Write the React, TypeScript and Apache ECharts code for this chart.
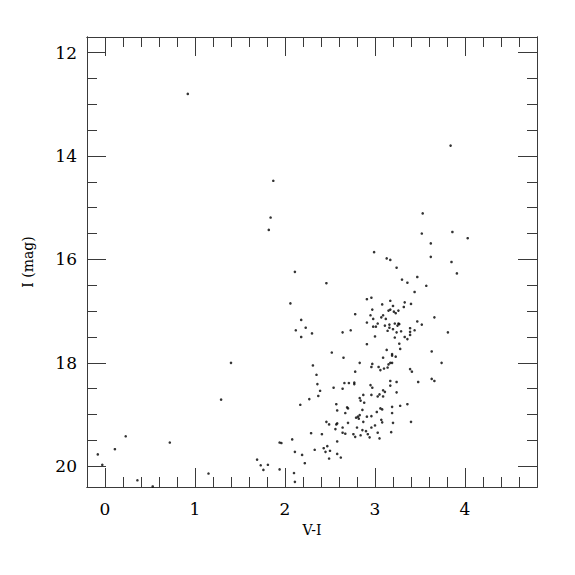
import React, { useEffect, useRef } from "react";
import * as echarts from "echarts";

// V-I colour index of each star
const colorVI = [
  0.92, -0.08, -0.03, 0.11, 0.23, 0.36, 0.53, 0.72, 1.15, 1.29, 1.40, 1.69,
  1.87, 1.84, 1.82, 2.11, 2.46, 2.06, 2.18, 2.12, 2.23, 2.30, 2.18, 2.64,
  2.52, 2.65, 2.31, 3.84, 3.53, 3.52, 3.86, 4.03, 3.62, 2.99, 3.62, 3.13,
  3.17, 3.85, 3.24, 3.91, 3.47, 3.30, 3.81, 3.74, 3.36, 3.57, 3.44, 2.96,
  2.91, 3.17, 3.33, 3.40, 3.08, 3.20, 3.32, 2.97, 3.17, 3.15, 3.26, 3.21,
  3.23, 2.78, 2.95, 3.09, 3.07, 3.12, 2.98, 2.91, 3.47, 3.66, 3.03, 3.22,
  3.26, 3.27, 3.52, 2.98, 3.01, 3.11, 3.16, 3.25, 3.16, 3.39, 2.73, 3.14,
  3.20, 3.29, 3.39, 3.44, 3.24, 3.39, 3.00, 3.22, 3.33, 3.36, 3.27, 2.91,
  3.28, 3.13, 3.63, 3.19, 3.19, 3.23, 3.09, 3.17, 3.19, 2.83, 3.15, 2.97,
  2.96, 3.04, 3.10, 3.14, 3.06, 3.39, 3.41, 2.78, 3.63, 3.66, 3.17, 3.24,
  3.48, 2.66, 2.71, 2.77, 2.77, 2.54, 2.64, 2.95, 2.97, 3.17, 2.87, 2.96,
  3.05, 3.03, 3.09, 3.09, 3.11, 3.24, 2.83, 2.35, 2.36, 2.39, 2.27, 2.37,
  2.17, 2.57, 2.84, 2.88, 2.58, 2.70, 2.69, 2.67, 2.79, 2.81, 2.82, 2.83,
  2.86, 2.91, 2.96, 3.02, 3.06, 3.08, 3.07, 3.08, 2.46, 2.49, 2.57, 2.58,
  2.56, 2.64, 2.70, 2.67, 2.64, 2.76, 2.78, 2.80, 2.87, 2.86, 2.84, 2.90,
  2.92, 2.96, 3.00, 2.94, 3.03, 3.05, 2.29, 2.41, 2.58, 2.33, 2.43, 2.47,
  2.45, 2.50, 2.58, 2.62, 2.49, 2.11, 2.19, 2.22, 2.11, 2.08, 1.94, 1.96,
  1.73, 1.81, 1.76, 1.94, 2.10, 3.19, 3.28, 3.36, 3.19, 3.20, 3.40, 3.18,
];

// I magnitude of each star
const magI = [
  12.80, 19.77, 19.97, 19.67, 19.42, 20.27, 20.39, 19.54, 20.14, 18.71, 18.00, 19.87,
  14.48, 15.19, 15.43, 16.24, 16.46, 16.85, 17.17, 17.37, 17.32, 17.43, 17.50, 17.41,
  17.80, 17.90, 18.05, 13.80, 15.11, 15.50, 15.47, 15.59, 15.69, 15.86, 15.95, 15.98,
  16.01, 16.05, 16.16, 16.27, 16.34, 16.39, 17.41, 18.00, 16.45, 16.51, 16.63, 16.74,
  16.77, 16.80, 16.83, 16.86, 16.87, 16.90, 16.92, 16.97, 16.97, 16.99, 16.99, 17.01,
  17.04, 17.06, 17.08, 17.08, 17.12, 17.15, 17.15, 17.22, 17.20, 17.12, 17.24, 17.24,
  17.24, 17.25, 17.26, 17.30, 17.30, 17.28, 17.26, 17.28, 17.32, 17.33, 17.37, 17.38,
  17.35, 17.39, 17.40, 17.37, 17.41, 17.46, 17.49, 17.51, 17.50, 17.54, 17.63, 17.64,
  17.73, 17.75, 17.78, 17.83, 17.86, 17.88, 17.90, 18.00, 18.00, 18.00, 18.03, 18.02,
  18.08, 18.08, 18.11, 18.09, 18.14, 18.12, 18.17, 18.17, 18.31, 18.35, 18.35, 18.37,
  18.37, 18.39, 18.39, 18.38, 18.41, 18.48, 18.50, 18.43, 18.48, 18.44, 18.62, 18.62,
  18.61, 18.65, 18.65, 18.53, 18.56, 18.57, 18.68, 18.23, 18.41, 18.54, 18.70, 18.64,
  18.81, 18.80, 18.73, 18.77, 18.92, 18.88, 18.86, 18.97, 19.06, 19.04, 19.08, 19.01,
  18.91, 19.04, 19.03, 18.95, 18.88, 18.90, 19.10, 19.15, 19.14, 19.19, 19.19, 19.17,
  19.28, 19.25, 19.16, 19.37, 19.35, 19.38, 19.43, 19.25, 19.14, 19.30, 19.40, 19.32,
  19.38, 19.25, 19.21, 19.44, 19.35, 19.46, 19.36, 19.38, 19.52, 19.68, 19.65, 19.61,
  19.72, 19.70, 19.76, 19.83, 19.85, 19.72, 19.78, 19.94, 20.30, 19.48, 19.54, 19.55,
  19.98, 19.97, 20.07, 20.06, 20.13, 18.85, 18.83, 18.80, 18.97, 19.16, 19.14, 19.34,
];

// tick positions
const xMajorTicks = [0, 1, 2, 3, 4];
const xMinorTicks = [
  -0.2, 0, 0.2, 0.4, 0.6, 0.8, 1, 1.2, 1.4, 1.6, 1.8, 2, 2.2, 2.4, 2.6, 2.8,
  3, 3.2, 3.4, 3.6, 3.8, 4, 4.2, 4.4, 4.6, 4.8,
];
const yMajorTicks = [12, 14, 16, 18, 20];
const yMinorTicks = [
  12, 12.5, 13, 13.5, 14, 14.5, 15, 15.5, 16, 16.5, 17, 17.5, 18, 18.5, 19,
  19.5, 20,
];

const X_MIN = -0.2;
const X_MAX = 4.8;
const Y_MIN = 11.7;
const Y_MAX = 20.4;

const AXIS_COLOR = "#3a3a3a";
const FONT = "'DejaVu Serif', 'Liberation Serif', serif";

function xAxisDef(position: string, ticks: number[], len: number, showLabel: boolean, name?: string) {
  return {
    type: "value",
    position,
    min: X_MIN,
    max: X_MAX,
    name: name || "",
    nameLocation: "middle",
    nameGap: 36,
    nameTextStyle: { fontFamily: FONT, fontSize: 14, color: "#000" },
    axisLine: { show: true, onZero: false, lineStyle: { color: AXIS_COLOR, width: 1 } },
    axisTick: {
      show: true,
      inside: true,
      length: len,
      customValues: ticks,
      lineStyle: { color: AXIS_COLOR, width: 1 },
    },
    axisLabel: {
      show: showLabel,
      customValues: ticks,
      margin: 13,
      fontFamily: FONT,
      fontSize: 17,
      color: "#000",
    },
    splitLine: { show: false },
  };
}

function yAxisDef(position: string, ticks: number[], len: number, showLabel: boolean, name?: string) {
  return {
    type: "value",
    position,
    min: Y_MIN,
    max: Y_MAX,
    inverse: true,
    name: name || "",
    nameLocation: "middle",
    nameGap: 52,
    nameRotate: 90,
    nameTextStyle: { fontFamily: FONT, fontSize: 14, color: "#000" },
    axisLine: { show: true, onZero: false, lineStyle: { color: AXIS_COLOR, width: 1 } },
    axisTick: {
      show: true,
      inside: true,
      length: len,
      customValues: ticks,
      lineStyle: { color: AXIS_COLOR, width: 1 },
    },
    axisLabel: {
      show: showLabel,
      customValues: ticks,
      margin: 10,
      fontFamily: FONT,
      fontSize: 17,
      color: "#000",
    },
    splitLine: { show: false },
  };
}

export default function App() {
  const ref = useRef<HTMLDivElement>(null);

  useEffect(() => {
    if (!ref.current) return;
    const chart = echarts.init(ref.current, null, { renderer: "svg" });
    const points = colorVI.map((v, i) => [v, magI[i]]);
    chart.setOption({
      animation: false,
      backgroundColor: "#fff",
      grid: { left: 87, top: 37, right: 38, bottom: 88, containLabel: false },
      xAxis: [
        xAxisDef("bottom", xMajorTicks, 19, true, "V-I"),
        xAxisDef("bottom", xMinorTicks, 10, false),
        xAxisDef("top", xMajorTicks, 19, false),
        xAxisDef("top", xMinorTicks, 10, false),
      ],
      yAxis: [
        yAxisDef("left", yMajorTicks, 19, true, "I (mag)"),
        yAxisDef("left", yMinorTicks, 10, false),
        yAxisDef("right", yMajorTicks, 19, false),
        yAxisDef("right", yMinorTicks, 10, false),
      ],
      series: [
        {
          type: "scatter",
          xAxisIndex: 0,
          yAxisIndex: 0,
          symbol: "circle",
          symbolSize: 2.6,
          itemStyle: { color: "#000" },
          data: points,
        },
      ],
    });
    return () => chart.dispose();
  }, []);

  return (
    <div
      ref={ref}
      style={{ position: "absolute", left: 0, top: 0, width: 575, height: 575 }}
    />
  );
}
